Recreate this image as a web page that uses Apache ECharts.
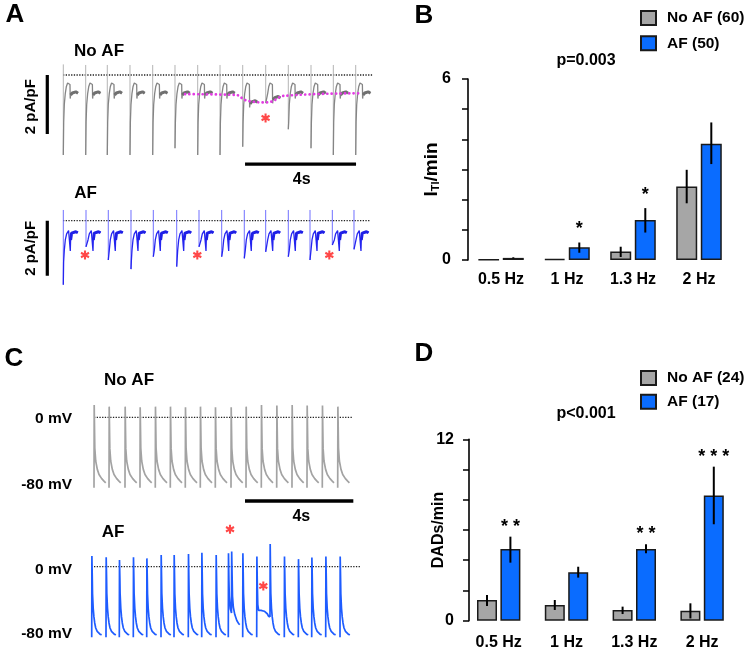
<!DOCTYPE html>
<html><head><meta charset="utf-8">
<script src="https://cdn.jsdelivr.net/npm/echarts@6/dist/echarts.min.js"></script>
<style>html,body{margin:0;padding:0;background:#fff}#c{width:747px;height:652px}</style>
</head><body><div id="c"></div>
<script>
const FONT = '"Liberation Sans", Arial, sans-serif';

// ---------------- Panel B data (I_TI / min) ----------------
const freqCategories = ['0.5 Hz', '1 Hz', '1.3 Hz', '2 Hz'];
const itiNoAF     = [0.01, 0.04, 0.28, 2.44];
const itiNoAFLow  = [0.01, 0.04, 0.10, 1.88];
const itiNoAFHigh = [0.01, 0.04, 0.44, 2.99];
const itiAF       = [0.07, 0.42, 1.33, 3.85];
const itiAFLow    = [0.05, 0.24, 0.91, 3.18];
const itiAFHigh   = [0.09, 0.58, 1.72, 4.56];
const itiStars    = ['', '*', '*', ''];
const itiTickLabels = [0, 6];
const itiLegend   = ['No AF (60)', 'AF (50)'];
const itiPText    = 'p=0.003';

// ---------------- Panel D data (DADs / min) ----------------
const dadNoAF     = [1.37, 1.04, 0.71, 0.66];
const dadNoAFLow  = [0.97, 0.71, 0.44, 0.15];
const dadNoAFHigh = [1.70, 1.37, 0.93, 1.15];
const dadAF       = [4.74, 3.20, 4.74, 8.29];
const dadAFLow    = [3.84, 2.85, 4.46, 6.38];
const dadAFHigh   = [5.56, 3.57, 5.05, 10.19];
const dadStars    = ['* *', '', '* *', '* * *'];
const dadTickLabels = [0, 12];
const dadLegend   = ['No AF (24)', 'AF (17)'];
const dadPText    = 'p<0.001';

// ---------------- Panel A: current traces (s, pA/pF) ----------------
const aNoAFBeatTimes = [0.011, 0.818, 1.596, 2.414, 3.232, 4.036, 4.854, 5.658, 6.476, 7.305, 8.119, 8.937, 9.741, 10.548];
const aNoAFArtTop    = [0.36, 0.34, 0.34, 0.34, 0.34, 0.34, 0.34, 0.34, 0.34, 0.34, 0.34, 0.34, 0.34, 0.34];
const aNoAFArtBottom = [-2.71, -2.71, -2.71, -2.71, -2.71, -2.48, -2.71, -2.71, -2.43, -0.95, -1.84, -2.48, -2.71, -2.71];
const aNoAFPlateauShift = [0, 0, 0, 0, 0, 0, 0, 0, -0.30, -0.16, 0, 0, 0, 0];
const aNoAFShapeT = [0.014, 0.036, 0.072, 0.108, 0.155, 0.198, 0.241, 0.249, 0.263, 0.324, 0.378, 0.450, 0.530];
const aNoAFShapeY = [-1.60, -1.00, -0.62, -0.40, -0.27, -0.25, -0.32, -0.80, -0.68, -0.61, -0.58, -0.57, -0.62];
const aNoAFDadT = [4.40, 6.26, 6.56, 7.22, 7.52, 7.94, 10.64];
const aNoAFDadY = [-0.65, -0.68, -0.85, -0.93, -0.90, -0.71, -0.62];
const aNoAFStarT = [7.30];
const aNoAFStarY = [-1.46];

const aAFBeatTimes = [0.011, 0.829, 1.632, 2.450, 3.254, 4.097, 4.901, 5.719, 6.533, 7.304, 8.119, 8.901, 9.705, 10.486];
const aAFArtTop    = [0.39, 0.39, 0.39, 0.39, 0.39, 0.39, 0.39, 0.39, 0.39, 0.39, 0.39, 0.39, 0.39, 0.39];
const aAFArtBottom = [-2.33, -0.95, -1.43, -1.76, -1.31, -1.67, -0.95, -1.31, -1.37, -1.13, -1.31, -1.43, -0.88, -1.04];
const aAFPlateauShift = [0, 0, 0, 0, 0, 0, 0, 0, 0, 0, 0, 0, 0, 0];
const aAFShapeT = [0.011, 0.036, 0.072, 0.119, 0.191, 0.234, 0.252, 0.263, 0.299, 0.360, 0.450, 0.523];
const aAFShapeY = [-1.50, -1.07, -0.70, -0.48, -0.36, -0.38, -1.10, -0.70, -0.45, -0.40, -0.40, -0.44];
const aAFStarT = [0.793, 4.840, 9.597];
const aAFStarY = [-1.25, -1.25, -1.25];

// ---------------- Panel C: action potentials (s, mV) ----------------
const cNoAFBeatTimes = [0.148, 0.702, 1.292, 1.846, 2.411, 2.965, 3.519, 4.073, 4.627, 5.207, 5.761, 6.326, 6.894, 7.459, 8.013, 8.578, 9.147];
const cNoAFPeaks = [14.7, 12.7, 12.7, 12.0, 12.7, 12.7, 12.0, 12.7, 12.0, 12.0, 12.7, 14.7, 13.9, 14.7, 13.9, 13.9, 12.7];
const cNoAFBase  = [-84, -84, -84, -84, -84, -84, -84, -84, -84, -84, -84, -84, -84, -84, -84, -84, -84];
const cNoAFShapeT = [0.022, 0.030, 0.063, 0.122, 0.185, 0.284, 0.369, 0.432];
const cNoAFShapeY = [-20, -37, -52, -62, -68, -73, -76, -78];

const cAFBeatTimes = [0.063, 0.591, 1.082, 1.599, 2.094, 2.622, 3.102, 3.630, 4.125, 4.653, 5.107, 5.639, 6.156, 6.647, 7.175, 7.692, 8.187, 8.704, 9.232];
const cAFPeaks = [12.7, 11.1, 8.0, 11.1, 9.9, 13.9, 13.9, 15.1, 16.7, 13.9, 16.0, 16.0, 12.0, 27.0, 12.0, 9.0, 11.0, 12.0, 12.0];
const cAFBase  = [-84, -84, -84, -84, -84, -84, -84, -84, -84, -84, -84, -84, -84, -60, -84, -84, -84, -84, -84];
const cAFShapeT = [0.022, 0.030, 0.055, 0.081, 0.111, 0.148, 0.203, 0.258, 0.314, 0.369];
const cAFShapeY = [-15, -32, -49.5, -59.5, -67, -73, -77, -79, -80.5, -81];
// beat 11 (early afterdepolarization) and beat 13 (afterdepolarization plateau)
const cAFEadT = [0, 0.007, 0.022, 0.037, 0.074, 0.118, 0.125, 0.140, 0.155, 0.185, 0.240, 0.314, 0.388, 0.425];
const cAFEadY = [-84, 16, -15, -35, -50, -55, 18, -10, -35, -48, -57, -64, -68, -69];
const cAFDadT = [0, 0.007, 0.022, 0.040, 0.070, 0.100, 0.160, 0.220, 0.280, 0.330, 0.390, 0.440, 0.488];
const cAFDadY = [-84, 12, -20, -45, -52, -53, -52, -54, -53, -55, -56, -59, -60];
const cAFSpecialIndex = [10, 12];
const cAFStarT = [5.17, 6.40];
const cAFStarY = [44.5, -23];

// ---------------- builders ----------------
const GAP = '-';
function buildCurrent(times, tops, bottoms, shapeT, shapeY, shifts, dropIdx) {
  const art = [], trace = [], plat = [];
  times.forEach((t0, i) => {
    art.push([t0, tops[i]], [t0, bottoms[i]], [t0, GAP]);
    trace.push([t0, bottoms[i]]);
    shapeT.forEach((dt, k) => {
      if (k < dropIdx && shapeY[k] < bottoms[i]) return;
      const y = shapeY[k] + (k >= dropIdx ? shifts[i] : 0);
      trace.push([t0 + dt, y]);
      if (k > dropIdx) plat.push([t0 + dt, y]);
    });
    trace.push([t0, GAP]);
    plat.push([t0, GAP]);
  });
  return {art, trace, plat};
}
function buildAP(times, peaks, bases, shapeT, shapeY, specials) {
  const out = [];
  times.forEach((t0, i) => {
    const sp = specials[i];
    if (sp) {
      sp.t.forEach((dt, k) => out.push([t0 + dt, sp.y[k]]));
    } else {
      out.push([t0, bases[i]], [t0 + 0.007, peaks[i]]);
      shapeT.forEach((dt, k) => out.push([t0 + dt, shapeY[k]]));
    }
    out.push([t0, GAP]);
  });
  return out;
}
const zip = (a, b) => a.map((v, i) => [v, b[i]]);

const A1 = buildCurrent(aNoAFBeatTimes, aNoAFArtTop, aNoAFArtBottom, aNoAFShapeT, aNoAFShapeY, aNoAFPlateauShift, 7);
const A2 = buildCurrent(aAFBeatTimes, aAFArtTop, aAFArtBottom, aAFShapeT, aAFShapeY, aAFPlateauShift, 6);
const cSpecials = {};
cSpecials[cAFSpecialIndex[0]] = {t: cAFEadT, y: cAFEadY};
cSpecials[cAFSpecialIndex[1]] = {t: cAFDadT, y: cAFDadY};
const C1 = buildAP(cNoAFBeatTimes, cNoAFPeaks, cNoAFBase, cNoAFShapeT, cNoAFShapeY, {});
const C2 = buildAP(cAFBeatTimes, cAFPeaks, cAFBase, cAFShapeT, cAFShapeY, cSpecials);

// scale bars (data units)
const aCurrentBar = 2;     // pA/pF
const timeBar = 4;         // s
const aBarT = -0.566, aTimeBarStart = 6.56, aTimeBarY = 2.06;
const cTimeBarStart = 5.724, cTimeBarY = 78.2;

// ---------------- styling helpers ----------------
function line(idx, data, color, width, extra) {
  return Object.assign({type: 'line', xAxisIndex: idx, yAxisIndex: idx, data, symbol: 'none', silent: true,
    connectNulls: false, animation: false, lineStyle: {color, width}}, extra || {});
}
function dotted(idx, x0, x1) {
  return line(idx, [[x0, 0], [x1, 0]], '#222', 1.3, {lineStyle: {color: '#222', width: 1.3, type: [1.3, 1.4]}, z: 1});
}
const ASTER = 'path://M0,-10L0,10M-8.66,-5L8.66,5M-8.66,5L8.66,-5';
function stars(idx, data) {
  return {type: 'scatter', xAxisIndex: idx, yAxisIndex: idx, data, symbol: ASTER, symbolSize: [8, 9], silent: true,
    animation: false, z: 10, itemStyle: {color: 'rgba(0,0,0,0)', borderColor: '#ff1a1a', borderWidth: 2.2}};
}
function errSeries(idx, lows, highs, sign, half) {
  return {type: 'custom', xAxisIndex: idx, yAxisIndex: idx, z: 5, silent: true, animation: false,
    data: lows.map((lo, i) => [i, lo, highs[i]]), encode: {x: 0, y: [1, 2]},
    renderItem: (params, api) => {
      const a = api.coord([api.value(0), api.value(1)]);
      const b = api.coord([api.value(0), api.value(2)]);
      const x = a[0] + sign * half;
      return {type: 'line', shape: {x1: x, y1: a[1], x2: x, y2: b[1]}, style: {stroke: '#000', lineWidth: 2}};
    }};
}
function starText(idx, highs, labels, half, lift) {
  return {type: 'custom', xAxisIndex: idx, yAxisIndex: idx, z: 6, silent: true, animation: false,
    data: highs.map((h, i) => [i, h]), encode: {x: 0, y: 1},
    renderItem: (params, api) => {
      const p = api.coord([api.value(0), api.value(1)]);
      return {type: 'text', x: p[0] + half, y: p[1] - lift,
        style: {text: labels[params.dataIndex], font: 'bold 18px ' + FONT, fill: '#000',
          align: 'center', verticalAlign: 'middle', textAlign: 'center', textVerticalAlign: 'middle'}};
    }};
}
function txt(text, x, y, size, opts) {
  opts = opts || {};
  return {type: 'text', x, y, rotation: opts.rot || 0, silent: true,
    style: {text, font: 'bold ' + size + 'px ' + FONT, fill: opts.color || '#000',
      align: opts.align || 'center', verticalAlign: 'middle',
      textAlign: opts.align || 'center', textVerticalAlign: 'middle'}};
}
const barCat = (idx, dataArr) => ({gridIndex: idx, type: 'category', data: dataArr,
  axisLine: {show: false}, axisTick: {show: false}, splitLine: {show: false},
  axisLabel: {fontFamily: FONT, fontSize: 16, fontWeight: 'bold', color: '#000', margin: idx === 2 ? 12 : 14}});
const hidX = (idx, min, max) => ({gridIndex: idx, type: 'value', min, max, show: false});
const hidY = (idx, min, max) => ({gridIndex: idx, type: 'value', min, max, show: false});
const legendStyle = {orient: 'vertical', itemWidth: 15, itemHeight: 14, icon: 'rect', padding: 0, selectedMode: false,
  textStyle: {fontFamily: FONT, fontSize: 15.5, fontWeight: 'bold', color: '#000', lineHeight: 14, padding: [0, 0, 0, 6]}};

const GRAY = '#a6a6a6', BLUE = '#0a6cff', BORDER = '#1a1a1a';

const option = {
  animation: false,
  backgroundColor: '#fff',
  textStyle: {fontFamily: FONT},
  grid: [
    {left: 40.8, top: 60.25, width: 333, height: 100.3, containLabel: false, outerBoundsMode: 'none'},
    {left: 40.8, top: 146.45, width: 333, height: 140.25, containLabel: false, outerBoundsMode: 'none'},
    {left: 468, top: 79, width: 264, height: 181, containLabel: false, outerBoundsMode: 'none'},
    {left: 90, top: 400.5, width: 270.8, height: 88.2, containLabel: false, outerBoundsMode: 'none'},
    {left: 90, top: 495.3, width: 270.8, height: 147, containLabel: false, outerBoundsMode: 'none'},
    {left: 464.8, top: 439.3, width: 271.2, height: 181.4, containLabel: false, outerBoundsMode: 'none'}
  ],
  xAxis: [hidX(0, -0.8, 11.2), hidX(1, -0.8, 11.2), barCat(2, freqCategories), hidX(3, 0, 10), hidX(4, 0, 10), barCat(5, freqCategories)],
  yAxis: [
    hidY(0, -2.9, 0.5), hidY(1, -2.4, 2.7),
    {gridIndex: 2, type: 'value', min: 0, max: 6, interval: 1,
      axisLine: {show: true, lineStyle: {color: '#000', width: 1.6}},
      axisTick: {show: true, length: 6, lineStyle: {color: '#000', width: 1.5}},
      splitLine: {show: false},
      axisLabel: {margin: 17, fontFamily: FONT, fontSize: 16, fontWeight: 'bold', color: '#000',
        formatter: v => itiTickLabels.includes(v) ? String(v) : ''},
      name: '{m|I}{s|TI}{m|/min}', nameLocation: 'middle', nameGap: 27, nameRotate: 90, nameMoveOverlap: false,
      nameTextStyle: {rich: {
        m: {fontFamily: FONT, fontSize: 19, fontWeight: 'bold', color: '#000'},
        s: {fontFamily: FONT, fontSize: 11, fontWeight: 'bold', color: '#000', verticalAlign: 'bottom'}}}},
    hidY(3, -85, 20), hidY(4, -90, 85),
    {gridIndex: 5, type: 'value', min: 0, max: 12, interval: 2, offset: -4.2,
      axisLine: {show: true, lineStyle: {color: '#000', width: 1.6}},
      axisTick: {show: true, length: 6, lineStyle: {color: '#000', width: 1.5}},
      splitLine: {show: false},
      axisLabel: {margin: 15, fontFamily: FONT, fontSize: 16, fontWeight: 'bold', color: '#000',
        formatter: v => dadTickLabels.includes(v) ? String(v) : ''},
      name: 'DADs/min', nameLocation: 'middle', nameGap: 22, nameRotate: 90, nameMoveOverlap: false,
      nameTextStyle: {fontFamily: FONT, fontSize: 16, fontWeight: 'bold', color: '#000'}}
  ],
  legend: [
    Object.assign({}, legendStyle, {data: itiLegend, left: 640, top: 10, itemGap: 9.3}),
    Object.assign({}, legendStyle, {data: dadLegend, left: 640, top: 370, itemGap: 7.7})
  ],
  series: [
    // ---- A1: No AF current ----
    dotted(0, 0, 11.14),
    line(0, A1.art, '#b4b4b4', 1),
    line(0, A1.trace, '#858585', 1.3),
    line(0, A1.plat, '#707070', 3),
    line(0, zip(aNoAFDadT, aNoAFDadY), '#e23ce2', 2.6,
      {smooth: 0.35, z: 4, lineStyle: {color: '#e23ce2', width: 2.7, type: [0.1, 4.3], cap: 'round'}}),
    stars(0, zip(aNoAFStarT, aNoAFStarY)),
    line(0, [[aBarT, 0], [aBarT, -aCurrentBar]], '#000', 3.2),
    // ---- A2: AF current ----
    dotted(1, 0, 11.06),
    line(1, A2.art, '#7070ff', 1),
    line(1, A2.trace, '#2525f0', 1.3),
    line(1, A2.plat, '#1f1fe6', 3),
    stars(1, zip(aAFStarT, aAFStarY)),
    line(1, [[aBarT, 0], [aBarT, -aCurrentBar]], '#000', 3.2),
    line(1, [[aTimeBarStart, aTimeBarY], [aTimeBarStart + timeBar, aTimeBarY]], '#000', 3.3),
    // ---- B bars ----
    {type: 'bar', name: itiLegend[0], xAxisIndex: 2, yAxisIndex: 2, data: itiNoAF, barWidth: 21, barGap: '17%',
      itemStyle: {color: GRAY, borderColor: BORDER, borderWidth: 1.5}, silent: true},
    {type: 'bar', name: itiLegend[1], xAxisIndex: 2, yAxisIndex: 2, data: itiAF, barWidth: 21, barGap: '17%',
      itemStyle: {color: BLUE, borderColor: BORDER, borderWidth: 1.5}, silent: true},
    errSeries(2, itiNoAFLow, itiNoAFHigh, -1, 12.3),
    errSeries(2, itiAFLow, itiAFHigh, 1, 12.3),
    starText(2, itiAFHigh, itiStars, 12.3, 13),
    // ---- C1: No AF AP ----
    dotted(3, 0.148, 9.675),
    line(3, C1, '#a3a3a3', 1.7),
    // ---- C2: AF AP ----
    dotted(4, 0.148, 10.0),
    line(4, C2, '#1e5cff', 1.7),
    stars(4, zip(cAFStarT, cAFStarY)),
    line(4, [[cTimeBarStart, cTimeBarY], [cTimeBarStart + timeBar, cTimeBarY]], '#000', 3.3),
    // ---- D bars ----
    {type: 'bar', name: dadLegend[0], xAxisIndex: 5, yAxisIndex: 5, data: dadNoAF, barWidth: 20, barGap: '17%',
      itemStyle: {color: GRAY, borderColor: BORDER, borderWidth: 1.5}, silent: true},
    {type: 'bar', name: dadLegend[1], xAxisIndex: 5, yAxisIndex: 5, data: dadAF, barWidth: 20, barGap: '17%',
      itemStyle: {color: BLUE, borderColor: BORDER, borderWidth: 1.5}, silent: true},
    errSeries(5, dadNoAFLow, dadNoAFHigh, -1, 11.7),
    errSeries(5, dadAFLow, dadAFHigh, 1, 11.7),
    starText(5, dadAFHigh, dadStars, 11.7, 10)
  ],
  graphic: [
    txt('A', 15, 15, 26), txt('B', 424, 16, 26), txt('C', 14, 359, 26), txt('D', 424, 354, 26),
    txt('No AF', 99, 51, 17), txt('AF', 85.5, 193, 17),
    txt('2 pA/pF', 31, 106.7, 15, {rot: Math.PI / 2}), txt('2 pA/pF', 31, 248.3, 15, {rot: Math.PI / 2}),
    txt('4s', 301.7, 180, 16),
    txt('No AF', 129, 380.5, 17), txt('AF', 113, 532, 17),
    txt('0 mV', 72, 419, 15.5, {align: 'right'}), txt('-80 mV', 72, 485, 15.5, {align: 'right'}),
    txt('0 mV', 72, 570, 15.5, {align: 'right'}), txt('-80 mV', 72, 634, 15.5, {align: 'right'}),
    txt('4s', 301.3, 516.7, 16),
    txt(itiPText, 586, 61, 16), txt(dadPText, 586, 414, 16)
  ]
};
const chart = echarts.init(document.getElementById('c'), null, {renderer: 'canvas', width: 747, height: 652});
chart.setOption(option);
</script>
</body></html>
